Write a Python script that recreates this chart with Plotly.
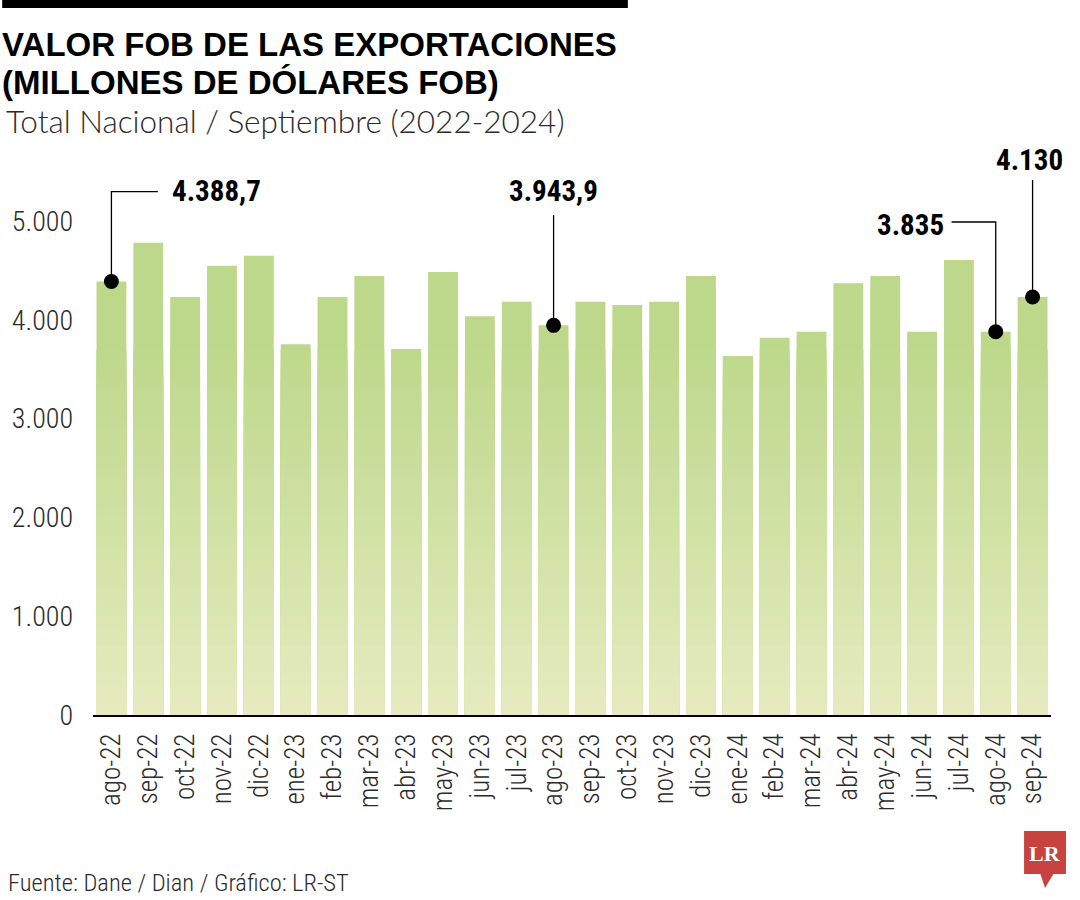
import plotly.graph_objects as go

# ---------------- data ----------------
months = ["ago-22", "sep-22", "oct-22", "nov-22", "dic-22", "ene-23", "feb-23", "mar-23",
          "abr-23", "may-23", "jun-23", "jul-23", "ago-23", "sep-23", "oct-23", "nov-23",
          "dic-23", "ene-24", "feb-24", "mar-24", "abr-24", "may-24", "jun-24", "jul-24",
          "ago-24", "sep-24"]
values = [4388.7, 4780, 4231, 4548, 4649, 3752, 4231, 4443, 3704, 4484, 4035, 4183, 3943.9,
          4183, 4150, 4183, 4443, 3634, 3819, 3880, 4369, 4443, 3880, 4605, 3880, 4231]
highlight_idx = [0, 12, 24, 25]
highlight_txt = ["4.388,7", "3.943,9", "3.835", "4.130"]
ytick_vals = [0, 1000, 2000, 3000, 4000, 5000]
ytick_text = ["0", "1.000", "2.000", "3.000", "4.000", "5.000"]

# ---------------- layout geometry ----------------
W, H = 1080, 900
ML, MR, MT, MB = 91, 29, 142, 185
PW, PH = W - ML - MR, H - MT - MB
YMAX = 5800

def px(x):
    return (x - ML) / PW

def py(y):
    return (H - MB - y) / PH

FONT = "Roboto Condensed, Liberation Sans Narrow, Arial Narrow, sans-serif"
FONT_T = "Liberation Sans, Arial, sans-serif"
FONT_S = "Lato, Open Sans, sans-serif"
TXT = "#2b2b2b"

# gradient colours (by absolute height)
C_BOT = (230, 235, 191)
C_TOP = (189, 216, 139)
G_TOP = 3700
STEP = 100

def col(v):
    t = min(max(v / G_TOP, 0), 1)
    c = [round(C_BOT[i] + (C_TOP[i] - C_BOT[i]) * t) for i in range(3)]
    return "rgb(%d,%d,%d)" % tuple(c)

fig = go.Figure()

caps = [None] + list(range(G_TOP, 0, -STEP))
for cap in caps:
    if cap is None:
        yv = values
        c = col(G_TOP)
    else:
        yv = [min(v, cap) for v in values]
        c = col(cap - STEP / 2)
    fig.add_trace(go.Bar(x=months, y=yv, marker=dict(color=c, line=dict(width=0)),
                         showlegend=False, hoverinfo="skip"))

# dots
fig.add_trace(go.Scatter(x=[months[i] for i in highlight_idx],
                         y=[values[i] for i in highlight_idx],
                         mode="markers", marker=dict(color="black", size=15),
                         showlegend=False, cliponaxis=False, hoverinfo="skip"))

LINE = dict(color="black", width=1.3)
shapes = []
annots = []

# ago-22 leader: up then right
i = highlight_idx[0]
shapes.append(dict(type="path", xref="x", yref="y",
                   path=f"M {i},{values[i]} L {i},5297 L {i+1.26},5297", line=LINE))
annots.append(dict(x=i + 1.58, y=5304, xref="x", yref="y", text=highlight_txt[0],
                   xanchor="left", yanchor="middle", showarrow=False))
# ago-23 leader: up
i = highlight_idx[1]
shapes.append(dict(type="line", xref="x", yref="y", x0=i, x1=i, y0=values[i], y1=5061, line=LINE))
annots.append(dict(x=i, y=5304, xref="x", yref="y", text=highlight_txt[1],
                   xanchor="center", yanchor="middle", showarrow=False))
# ago-24 leader: up then left
i = highlight_idx[2]
shapes.append(dict(type="path", xref="x", yref="y",
                   path=f"M {i},{values[i]} L {i},4990 L {i-1.2},4990", line=LINE))
annots.append(dict(x=i - 1.36, y=4960, xref="x", yref="y", text=highlight_txt[2],
                   xanchor="right", yanchor="middle", showarrow=False))
# sep-24 leader: up
i = highlight_idx[3]
shapes.append(dict(type="line", xref="x", yref="y", x0=i, x1=i, y0=values[i], y1=5415, line=LINE))
annots.append(dict(x=i - 0.08, y=5617, xref="x", yref="y", text=highlight_txt[3],
                   xanchor="center", yanchor="middle", showarrow=False))
for a in annots:
    a["font"] = dict(family=FONT, size=29, color="black", weight="bold")

# top black bar
shapes.append(dict(type="rect", xref="paper", yref="paper", x0=px(0), x1=px(627),
                   y0=py(8), y1=py(0), fillcolor="black", line=dict(width=0)))
# logo
shapes.append(dict(type="rect", xref="paper", yref="paper", x0=px(1024), x1=px(1066),
                   y0=py(874), y1=py(831), fillcolor="#c8423f", line=dict(width=0)))
shapes.append(dict(type="path", xref="paper", yref="paper",
                   path=f"M {px(1040)},{py(873)} L {px(1054)},{py(873)} L {px(1045)},{py(888)} Z",
                   fillcolor="#c8423f", line=dict(width=0)))

# titles
annots += [
    dict(x=px(-2), y=py(44.5), text="VALOR FOB DE LAS EXPORTACIONES",
         font=dict(family=FONT_T, size=33, color="black", weight="bold")),
    dict(x=px(-2), y=py(82.5), text="(MILLONES DE DÓLARES FOB)",
         font=dict(family=FONT_T, size=33, color="black", weight="bold")),
    dict(x=px(2), y=py(121), text="Total Nacional / Septiembre (2022-2024)",
         font=dict(family=FONT_S, size=31.5, color=TXT, weight=300)),
    dict(x=px(4), y=py(882), text="Fuente: Dane / Dian / Gráfico: LR-ST",
         font=dict(family=FONT, size=24.5, color=TXT, weight=300)),
]
for a in annots[-4:]:
    a.update(xref="paper", yref="paper", xanchor="left", yanchor="middle", showarrow=False)
annots.append(dict(x=px(1045), y=py(853), xref="paper", yref="paper", text="<b>LR</b>",
                   showarrow=False, xanchor="center", yanchor="middle",
                   font=dict(family="Liberation Serif, DejaVu Serif, serif", size=22, color="white")))

fig.update_layout(
    width=W, height=H,
    margin=dict(l=ML, r=MR, t=MT, b=MB, pad=0),
    paper_bgcolor="white", plot_bgcolor="white",
    barmode="overlay", bargap=0.19,
    shapes=shapes, annotations=annots,
    font=dict(family=FONT, color=TXT),
    xaxis=dict(type="category", range=[-0.5, len(months) - 0.5], showline=True,
               linecolor="black", linewidth=1.5, ticks="", tickangle=-90,
               tickfont=dict(family=FONT, size=27, color=TXT, weight=300), ticklabelstandoff=6,
               showgrid=False, zeroline=False),
    yaxis=dict(range=[0, YMAX], tickvals=ytick_vals, ticktext=ytick_text,
               tickfont=dict(family=FONT, size=28, color=TXT, weight=300), ticklabelstandoff=19,
               showgrid=False, zeroline=False, showline=False, ticks=""),
)

fig.write_html("out.html")
